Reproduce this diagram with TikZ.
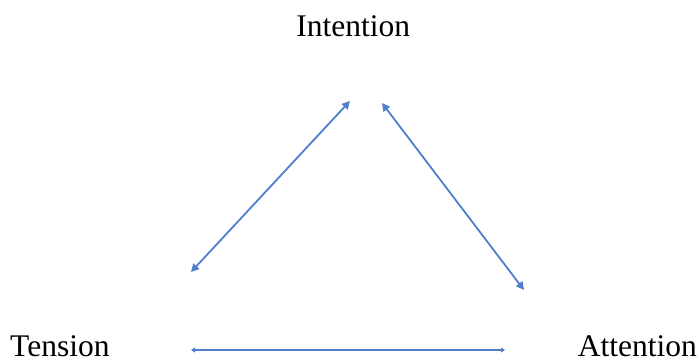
\documentclass[tikz,border=0pt]{standalone}
\usepackage{fontspec}
\setmainfont{Liberation Serif}
\usetikzlibrary{arrows.meta}
\definecolor{arrowblue}{RGB}{80,126,206}
\begin{document}
\begin{tikzpicture}[x=1pt,y=1pt,
  lbl/.style={inner sep=0pt,anchor=base,font=\fontsize{31.5}{36}\selectfont},
  biarrow/.style={draw=arrowblue,line width=1.8pt,{Triangle[length=8pt,width=8pt]}-{Triangle[length=8pt,width=8pt]}},
  flatarrow/.style={draw=arrowblue,line width=1.8pt,{Triangle[length=4pt,width=5pt]}-{Triangle[length=4pt,width=5pt]}}]
\useasboundingbox (0,0) rectangle (699,360);
\node[lbl] (int) at (353.3,324) {Intention};
\node[lbl,anchor=base west] (ten) at (10,3.5) {Tension};
\node[lbl,anchor=base east] (att) at (697,3.5) {Attention};
\coordinate (l1) at (191,88);
\coordinate (l2) at (350,259);
\coordinate (r1) at (382,257);
\coordinate (r2) at (524,70);
\coordinate (b1) at (191,10);
\coordinate (b2) at (505,10);
\draw[biarrow] (l1) -- (l2);
\draw[biarrow] (r1) -- (r2);
\draw[flatarrow] (b1) -- (b2);
\end{tikzpicture}
\end{document}
